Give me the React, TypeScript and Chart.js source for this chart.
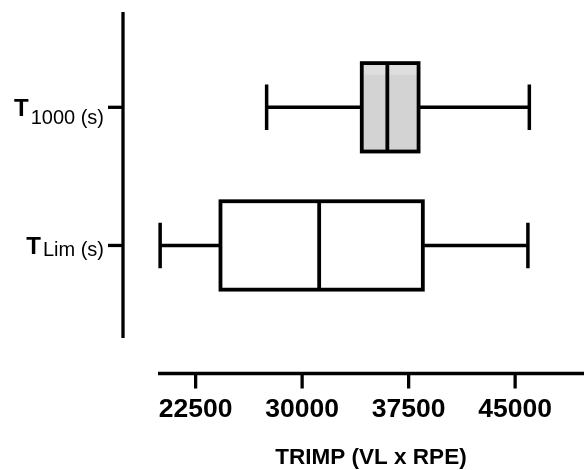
import { useEffect, useRef } from "react";
import { Chart, registerables } from "chart.js";

Chart.register(...registerables);

// ---- data ----
const categories = ["T1000 (s)", "TLim (s)"];
const labelMain = ["T", "T"];
const labelSub = ["1000 (s)", "Lim (s)"];
const categoryPos = [1, 2];
const whiskerMin = [27500, 20000];
const q1 = [34200, 24250];
const median = [36000, 31200];
const q3 = [38200, 38500];
const whiskerMax = [46000, 45900];
const xTicks = [22500, 30000, 37500, 45000];
const xTitle = "TRIMP (VL x RPE)";

// ---- style ----
const FONT = '"Liberation Sans", Arial, Helvetica, sans-serif';
const boxFillTop = ["#dedede", "#ffffff"];
const boxFill = ["#d3d3d3", "#ffffff"];
const subShift = [8, 2];
const BOX_W = 0.64;
const CAP_W = 0.33;
const AXIS_OFFSET = 35;
const TICK_LEN = 15;

const boxPlugin = {
  id: "boxplotDraw",
  afterDatasetsDraw(chart: any) {
    const { ctx, chartArea, scales } = chart;
    const x = scales.x;
    const y = scales.y;
    ctx.save();
    ctx.strokeStyle = "#000";
    ctx.fillStyle = "#000";
    ctx.lineWidth = 3.3;
    ctx.lineCap = "butt";

    // offset y axis
    const axX = chartArea.left - AXIS_OFFSET;
    ctx.beginPath();
    ctx.moveTo(axX, chartArea.top);
    ctx.lineTo(axX, chartArea.bottom);
    ctx.stroke();

    // offset x axis
    const axY = chartArea.bottom + AXIS_OFFSET + 0.5;
    ctx.lineWidth = 3.6;
    ctx.beginPath();
    ctx.moveTo(chartArea.left, axY);
    ctx.lineTo(chartArea.right, axY);
    ctx.stroke();
    ctx.lineWidth = 3.3;
    xTicks.forEach((v) => {
      const px = x.getPixelForValue(v);
      ctx.beginPath();
      ctx.moveTo(px, axY);
      ctx.lineTo(px, axY + TICK_LEN);
      ctx.stroke();
    });

    categoryPos.forEach((pos, i) => {
      const yc = y.getPixelForValue(pos);
      // y tick
      ctx.lineWidth = 3.3;
      ctx.beginPath();
      ctx.moveTo(axX - TICK_LEN, yc);
      ctx.lineTo(axX, yc);
      ctx.stroke();

      // label with subscript
      ctx.textBaseline = "alphabetic";
      ctx.textAlign = "left";
      const mainFont = `bold 24px ${FONT}`;
      const subFont = `20px ${FONT}`;
      ctx.font = subFont;
      const subW = ctx.measureText(labelSub[i]).width;
      ctx.font = mainFont;
      const mainW = ctx.measureText(labelMain[i]).width;
      const right = axX - TICK_LEN - 4;
      const subX = right - subW;
      const mainX = subX - mainW - 2;
      const base = yc + 9;
      ctx.fillText(labelMain[i], mainX, base);
      ctx.font = subFont;
      ctx.fillText(labelSub[i], subX, base + subShift[i]);

      const hb = Math.abs(y.getPixelForValue(pos + BOX_W / 2) - y.getPixelForValue(pos - BOX_W / 2)) / 2;
      const hc = Math.abs(y.getPixelForValue(pos + CAP_W / 2) - y.getPixelForValue(pos - CAP_W / 2)) / 2;
      const xMin = x.getPixelForValue(whiskerMin[i]);
      const xQ1 = x.getPixelForValue(q1[i]);
      const xMed = x.getPixelForValue(median[i]);
      const xQ3 = x.getPixelForValue(q3[i]);
      const xMax = x.getPixelForValue(whiskerMax[i]);

      // whiskers
      ctx.lineWidth = 3.5;
      ctx.beginPath();
      ctx.moveTo(xMin, yc);
      ctx.lineTo(xQ1, yc);
      ctx.moveTo(xQ3, yc);
      ctx.lineTo(xMax, yc);
      ctx.moveTo(xMin, yc - hc);
      ctx.lineTo(xMin, yc + hc);
      ctx.moveTo(xMax, yc - hc);
      ctx.lineTo(xMax, yc + hc);
      ctx.stroke();

      // box
      const top = yc - hb;
      const g = ctx.createLinearGradient(0, top, 0, yc + hb);
      g.addColorStop(0, boxFillTop[i]);
      g.addColorStop(0.12, boxFillTop[i]);
      g.addColorStop(0.14, boxFill[i]);
      g.addColorStop(1, boxFill[i]);
      ctx.fillStyle = g;
      ctx.fillRect(xQ1, top, xQ3 - xQ1, 2 * hb);
      ctx.fillStyle = "#000";
      ctx.lineWidth = 3.8;
      ctx.strokeRect(xQ1, top, xQ3 - xQ1, 2 * hb);
      ctx.beginPath();
      ctx.moveTo(xMed, yc - hb);
      ctx.lineTo(xMed, yc + hb);
      ctx.stroke();
    });
    ctx.restore();
  },
};

export default function App() {
  const ref = useRef<HTMLCanvasElement | null>(null);
  useEffect(() => {
    document.body.style.margin = "0";
    const canvas = ref.current;
    if (!canvas) return;
    const chart = new Chart(canvas, {
      type: "scatter",
      data: {
        datasets: [
          {
            label: "median",
            data: categoryPos.map((p, i) => ({ x: median[i], y: p })),
            pointRadius: 0,
            pointHoverRadius: 0,
          },
        ],
      },
      options: {
        responsive: false,
        animation: false,
        events: [],
        layout: { padding: { top: 12, right: 0, left: 0, bottom: 0 } },
        plugins: { legend: { display: false }, tooltip: { enabled: false } },
        scales: {
          x: {
            type: "linear",
            min: 19850,
            max: 49850,
            afterBuildTicks: (s: any) => {
              s.ticks = xTicks.map((v) => ({ value: v }));
            },
            afterFit: (s: any) => {
              s.height = 132;
            },
            grid: {
              display: true,
              drawOnChartArea: false,
              drawTicks: true,
              tickLength: 56,
              color: "rgba(0,0,0,0)",
            },
            border: { display: false },
            ticks: {
              padding: 0,
              color: "#000",
              autoSkip: false,
              maxRotation: 0,
              font: { family: FONT, size: 26.5, weight: "bold", lineHeight: 1.2 },
              callback: (v: any) => String(v),
            },
            title: {
              display: true,
              text: xTitle,
              color: "#000",
              font: { family: FONT, size: 22.5, weight: "bold", lineHeight: 1 },
              padding: { top: 0, bottom: 1 },
            },
          },
          y: {
            type: "linear",
            reverse: true,
            min: 0.31,
            max: 2.67,
            afterFit: (s: any) => {
              s.width = 158;
            },
            grid: { display: false },
            border: { display: false },
            ticks: { display: false },
          },
        },
      },
      plugins: [boxPlugin],
    });
    return () => chart.destroy();
  }, []);
  return (
    <div style={{ width: 584, height: 470 }}>
      <canvas ref={ref} width={584} height={470} aria-label={categories.join(", ")} />
    </div>
  );
}
